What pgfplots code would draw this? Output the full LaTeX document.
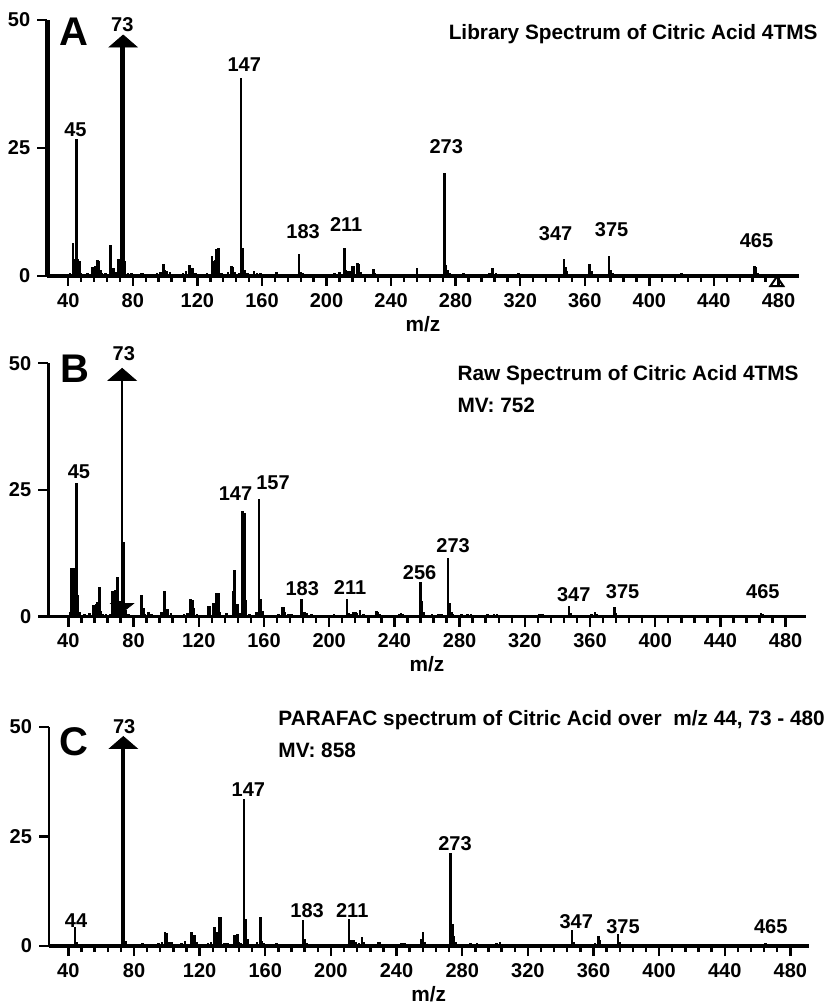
\documentclass[border=0pt]{standalone}
\usepackage{pgfplots}
\pgfplotsset{compat=1.18}
\usepackage{pgfplotstable}
\usepackage{fontspec}
\setmainfont{Liberation Sans}

\newcommand{\lab}{\fontsize{10}{12}\selectfont\bfseries}
\newcommand{\ttl}{\fontsize{10.4}{12.5}\selectfont\bfseries}
\newcommand{\panelfont}{\fontsize{20}{24}\selectfont\bfseries}

\pgfplotstableread{
m v
41 0.6
43 6.4
44 3.4
45 26.8
46 3.3
47 3.0
48 0.6
50 0.4
52 0.5
55 1.8
56 0.8
57 2.0
58 3.2
59 3.0
60 1.2
61 0.5
63 0.5
66 6.0
67 1.6
68 1.5
70 0.8
71 3.4
72 3.3
75 3.0
77 0.5
79 0.5
83 0.4
85 0.5
86 0.6
88 0.4
91 0.4
93 0.4
95 0.6
97 0.8
99 2.3
100 1.2
101 1.0
103 0.7
105 0.4
109 0.4
111 0.6
113 1.0
115 2.2
116 1.6
117 1.6
119 0.5
123 0.4
126 0.5
129 4.0
130 3.0
131 3.2
132 5.3
133 5.4
135 0.5
137 0.4
139 0.8
141 1.9
142 1.8
143 0.8
146 0.6
147 38.7
148 5.4
149 1.2
151 0.5
155 0.9
157 0.6
159 0.5
165 0.4
169 0.7
171 0.4
175 0.4
183 4.2
184 0.8
185 0.5
189 0.4
193 0.3
201 0.4
205 0.5
208 0.8
211 5.5
212 1.2
213 1.0
215 1.0
216 1.9
217 2.0
219 2.5
220 2.3
221 0.8
229 1.3
230 0.6
237 0.3
245 0.4
256 1.6
257 0.4
273 20.2
274 2.1
275 1.2
276 0.5
285 0.5
289 0.4
301 0.6
303 1.6
305 0.5
319 0.5
331 0.4
347 3.4
348 1.8
349 0.9
350 0.4
363 2.4
364 1.0
375 4.0
376 1.2
377 0.5
420 0.5
465 2.0
466 1.8
467 0.6
}\dataA

\pgfplotstableread{
m v
41 1.0
42 9.5
43 9.5
45 26.3
46 4.3
47 1.0
50 0.5
53 0.8
55 2.3
56 2.3
57 2.5
58 2.8
59 5.9
60 1.2
61 0.5
63 0.5
66 0.6
67 5.0
68 5.0
69 5.2
70 7.9
71 3.0
72 3.0
74 14.8
75 1.3
77 0.5
85 4.3
86 1.7
87 0.6
89 1.0
91 0.5
97 1.0
98 1.0
99 5.0
100 1.5
101 1.5
103 0.8
111 0.6
113 0.8
115 3.4
116 3.3
117 1.7
119 0.5
126 2.0
127 2.0
129 2.7
130 2.7
131 4.7
132 4.7
133 1.0
137 0.8
141 5.0
142 9.1
143 2.5
144 2.5
145 0.8
147 20.8
148 20.5
149 3.3
151 0.5
155 1.0
156 1.0
157 23.3
158 3.5
159 1.2
165 0.4
169 0.5
171 1.9
172 1.9
173 1.0
175 0.5
177 0.5
183 3.4
184 1.0
185 0.9
186 0.7
189 0.5
193 0.4
199 0.4
203 0.5
207 0.4
211 3.4
212 0.8
213 0.5
215 1.0
216 1.0
217 0.7
219 1.3
221 0.5
229 1.1
230 1.0
231 0.5
235 0.4
243 0.6
244 0.7
245 0.5
247 0.4
256 6.9
257 3.0
258 1.0
259 0.4
263 0.5
267 0.5
269 0.6
273 11.5
274 2.6
275 1.0
276 0.5
281 0.5
285 0.6
287 0.5
297 0.5
301 0.6
303 0.5
315 0.4
329 0.5
331 0.6
333 0.4
347 2.1
348 0.8
349 0.4
361 0.5
363 1.0
364 0.6
375 1.9
376 0.7
377 0.4
465 0.7
466 0.6
}\dataB

\pgfplotstableread{
m v
43 0.5
44 4.4
45 1.0
47 0.3
55 0.4
57 0.4
59 0.5
61 0.3
63 0.3
67 0.4
69 0.4
74 9.8
75 1.2
77 0.5
81 0.4
85 0.6
87 0.5
89 0.4
91 0.4
95 0.6
97 0.8
99 3.3
100 3.0
101 1.0
103 1.0
105 0.4
107 0.5
109 0.6
111 1.2
115 3.3
116 2.4
117 2.4
118 0.8
121 0.5
125 0.6
127 0.8
129 4.4
130 3.3
131 3.3
132 6.7
133 6.7
135 0.6
137 0.7
139 0.5
141 2.5
142 2.6
143 2.8
144 1.0
145 0.6
147 33.5
148 6.2
149 1.5
151 0.4
153 0.5
155 0.8
157 6.7
158 1.2
159 0.6
161 0.5
165 0.5
167 0.6
169 0.4
171 0.5
173 0.5
177 0.4
183 6.0
184 1.7
185 0.6
187 0.5
191 0.4
197 0.4
201 0.5
203 0.5
207 0.5
211 6.2
212 1.3
213 1.3
214 1.3
215 1.0
217 0.6
219 2.1
220 0.8
225 0.5
229 0.9
230 0.8
235 0.4
241 0.4
243 0.7
245 0.6
247 0.5
253 0.5
255 1.7
256 3.3
257 1.0
259 0.4
263 0.4
267 0.5
269 0.4
273 21.2
274 5.0
275 2.3
276 0.8
279 0.4
285 0.7
287 0.5
289 0.6
293 0.3
301 0.6
303 0.8
305 0.5
311 0.3
319 0.5
321 0.4
327 0.3
331 0.4
333 0.5
335 0.4
347 3.7
348 1.0
349 0.5
355 0.3
361 0.6
363 2.3
364 1.3
365 0.5
375 2.7
376 1.0
377 0.5
385 0.3
465 0.7
466 0.5
}\dataC

\pgfplotsset{
  msaxis/.style={
    scale only axis,
    ymin=0, ymax=50,
    enlargelimits=false, clip=false,
    anchor=south west,
    axis x line=bottom, axis y line=left,
    x axis line style={-, line width=1.6pt},
    y axis line style={-, line width=1.3pt},
    xtick={40,80,...,480}, ytick={0,25,50},
    minor x tick num=4,
    tick align=outside,
    major tick length=5pt, minor tick length=3pt,
    tick style={black, line width=1.2pt},
    /pgf/number format/assume math mode=true,
    tick label style={font=\lab},
    xlabel={m/z},
    xlabel style={font=\ttl, at={(axis description cs:0.5,0)}, anchor=center, yshift=-24pt},
  },
  spec/.style={ycomb, black, line width=1.3pt, mark=none},
}

\begin{document}
\begin{tikzpicture}
\path[use as bounding box] (0,0) rectangle (415.5pt,501.5pt);

% ---------- Panel A ----------
\begin{axis}[msaxis, xmin=27, xmax=492.4, width=375.6pt, height=128pt,
  at={(23.65pt,363.5pt)}, y axis line style={line width=2.2pt}]
\addplot[spec] table[x=m,y=v] {\dataA};
\addplot[ycomb, black, line width=2.8pt, mark=none] coordinates {(73.5,44.8)};
\addplot[only marks, mark=triangle*, mark size=4pt, mark options={xscale=2, fill=black, draw=black}] coordinates {(74,45.5)};
\addplot[only marks, mark=triangle, mark size=3.1pt, mark options={xscale=1.2, draw=black, fill=white, line width=1pt}] coordinates {(479,-1.35)};
\node[font=\lab] at (axis cs:73.5,49.0) {73};
\node[font=\lab] at (axis cs:44.4,28.5) {45};
\node[font=\lab] at (axis cs:149,41.2) {147};
\node[font=\lab] at (axis cs:185.5,8.65) {183};
\node[font=\lab] at (axis cs:212.2,9.96) {211};
\node[font=\lab] at (axis cs:274.2,25.25) {273};
\node[font=\lab] at (axis cs:341.9,8.3) {347};
\node[font=\lab] at (axis cs:376.6,9.0) {375};
\node[font=\lab] at (axis cs:466.4,7.0) {465};
\node[font=\panelfont] at (axis cs:43.7,47.7) {A};
\node[font=\ttl, anchor=east, inner sep=0pt] at (axis cs:504.4,47.3) {Library Spectrum of Citric Acid 4TMS};
\end{axis}

% ---------- Panel B ----------
\begin{axis}[msaxis, xmin=27.7, xmax=492.3, width=378.7pt, height=126.7pt,
  at={(24.15pt,193.2pt)}]
\addplot[spec] table[x=m,y=v] {\dataB};
\addplot[spec] coordinates {(73,48)};
\addplot[only marks, mark=triangle*, mark size=4pt, mark options={xscale=2, fill=black, draw=black}] coordinates {(73,47.4)};
\addplot[only marks, mark=triangle*, mark size=3pt, mark options={rotate=180, xscale=2.2, fill=black, draw=black}] coordinates {(73,2.0)};
\node[font=\lab] at (axis cs:74,51.9) {73};
\node[font=\lab] at (axis cs:46.5,28.6) {45};
\node[font=\lab] at (axis cs:142.5,24.3) {147};
\node[font=\lab] at (axis cs:165.5,26.4) {157};
\node[font=\lab] at (axis cs:183.5,5.45) {183};
\node[font=\lab] at (axis cs:212.8,5.65) {211};
\node[font=\lab] at (axis cs:255.5,8.7) {256};
\node[font=\lab] at (axis cs:276,14.0) {273};
\node[font=\lab] at (axis cs:350,4.3) {347};
\node[font=\lab] at (axis cs:380,5.0) {375};
\node[font=\lab] at (axis cs:466,5.0) {465};
\node[font=\panelfont] at (axis cs:44.1,49) {B};
\node[font=\ttl, anchor=west, inner sep=0pt] at (axis cs:278.5,47.6) {Raw Spectrum of Citric Acid 4TMS};
\node[font=\ttl, anchor=west, inner sep=0pt] at (axis cs:278.5,41.7) {MV: 752};
\end{axis}

% ---------- Panel C ----------
\begin{axis}[msaxis, xmin=28.2, xmax=491.1, width=379.8pt, height=109.5pt,
  at={(24.5pt,28.5pt)}]
\addplot[spec] table[x=m,y=v] {\dataC};
\addplot[ycomb, black, line width=2pt, mark=none] coordinates {(73,45)};
\addplot[only marks, mark=triangle*, mark size=4pt, mark options={xscale=2, fill=black, draw=black}] coordinates {(73.5,46.0)};
\node[font=\lab] at (axis cs:74,50.1) {73};
\node[font=\lab] at (axis cs:44.7,5.9) {44};
\node[font=\lab] at (axis cs:149.7,35.6) {147};
\node[font=\lab] at (axis cs:185.5,8.07) {183};
\node[font=\lab] at (axis cs:213,8.2) {211};
\node[font=\lab] at (axis cs:275.6,23.4) {273};
\node[font=\lab] at (axis cs:349.5,5.5) {347};
\node[font=\lab] at (axis cs:378,4.4) {375};
\node[font=\lab] at (axis cs:468,4.4) {465};
\node[font=\panelfont] at (axis cs:43.4,46.6) {C};
\node[font=\ttl, anchor=west, inner sep=0pt] at (axis cs:167.8,51.6) {PARAFAC spectrum of Citric Acid over\ \ m/z 44, 73 - 480};
\node[font=\ttl, anchor=west, inner sep=0pt] at (axis cs:167.8,44.7) {MV: 858};
\end{axis}
\end{tikzpicture}
\end{document}
